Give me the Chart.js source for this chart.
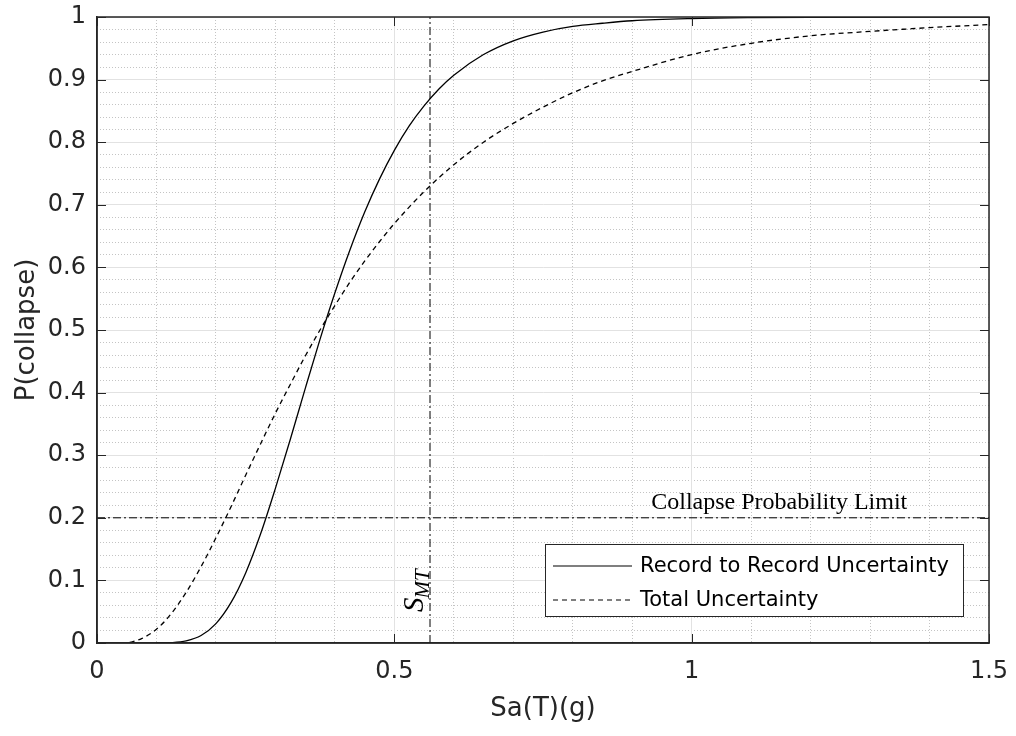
<!DOCTYPE html>
<html lang="en">
<head>
    <meta charset="utf-8" />
    <title>Collapse Fragility Curves</title>
    <script src="https://cdn.jsdelivr.net/npm/chart.js"></script>
    <style>
        html, body { margin: 0; padding: 0; background: #fff; }
        canvas { display: block; }
    </style>
</head>
<body>
    <canvas id="fragilityChart" width="1016" height="736"></canvas>
    <script>
        // values
        const xRecord = [0.10, 0.125, 0.15, 0.175, 0.20, 0.225, 0.25, 0.275, 0.30, 0.325, 0.35, 0.375, 0.40, 0.425, 0.45, 0.475, 0.50, 0.525, 0.55, 0.575, 0.60, 0.65, 0.70, 0.75, 0.80, 0.85, 0.90, 1.0, 1.1, 1.2, 1.5];
        const pRecord = [0, 0.0006, 0.0035, 0.012, 0.031, 0.064, 0.112, 0.174, 0.247, 0.325, 0.406, 0.485, 0.559, 0.627, 0.688, 0.741, 0.787, 0.826, 0.858, 0.885, 0.907, 0.940, 0.962, 0.976, 0.985, 0.990, 0.994, 0.9975, 0.999, 0.9996, 1.0];

        const xTotal = [0.055, 0.075, 0.10, 0.125, 0.15, 0.175, 0.20, 0.225, 0.25, 0.275, 0.30, 0.325, 0.35, 0.375, 0.40, 0.425, 0.45, 0.475, 0.50, 0.55, 0.60, 0.65, 0.70, 0.75, 0.80, 0.85, 0.90, 1.0, 1.1, 1.2, 1.3, 1.4, 1.5];
        const pTotal = [0.001, 0.007, 0.022, 0.047, 0.081, 0.122, 0.168, 0.217, 0.268, 0.318, 0.367, 0.413, 0.458, 0.500, 0.539, 0.576, 0.610, 0.641, 0.670, 0.721, 0.764, 0.800, 0.830, 0.856, 0.879, 0.898, 0.913, 0.940, 0.958, 0.970, 0.977, 0.983, 0.988];

        const seriesLabels = ['Record to Record Uncertainty', 'Total Uncertainty'];
        const smtValue = 0.56;     // S_MT marker
        const limitValue = 0.2;    // collapse probability limit
        const xTicks = [0, 0.5, 1, 1.5];
        const yTicks = [0, 0.1, 0.2, 0.3, 0.4, 0.5, 0.6, 0.7, 0.8, 0.9, 1];

        const axisColor = '#262626';
        const dashDot = [8, 3, 2, 3];

        const toPoints = (xs, ys) => xs.map((x, i) => ({ x, y: ys[i] }));
        const tickText = v => String(Number(v.toFixed(2)));

        // inside ticks, box, legend and the two text notes
        const decorations = {
            id: 'decorations',
            afterDatasetsDraw(chart) {
                const { ctx, chartArea: a, scales } = chart;
                const xs = scales.x, ys = scales.y;
                ctx.save();

                // box + inner tick marks
                ctx.strokeStyle = axisColor;
                ctx.lineWidth = 1.5;
                ctx.strokeRect(a.left, a.top, a.right - a.left, a.bottom - a.top);
                ctx.lineWidth = 1;
                ctx.beginPath();
                yTicks.forEach(v => {
                    const py = Math.round(ys.getPixelForValue(v)) + 0.5;
                    ctx.moveTo(a.left, py); ctx.lineTo(a.left + 9, py);
                    ctx.moveTo(a.right, py); ctx.lineTo(a.right - 9, py);
                });
                xTicks.forEach(v => {
                    const px = Math.round(xs.getPixelForValue(v)) + 0.5;
                    ctx.moveTo(px, a.bottom); ctx.lineTo(px, a.bottom - 9);
                    ctx.moveTo(px, a.top); ctx.lineTo(px, a.top + 9);
                });
                ctx.stroke();

                // text notes
                ctx.fillStyle = '#000';
                ctx.font = '24px "Liberation Serif"';
                ctx.textAlign = 'left';
                ctx.textBaseline = 'alphabetic';
                ctx.fillText('Collapse Probability Limit', xs.getPixelForValue(0.932), ys.getPixelForValue(limitValue) - 9);

                ctx.save();
                ctx.translate(xs.getPixelForValue(smtValue) - 7, ys.getPixelForValue(0) - 31);
                ctx.rotate(-Math.PI / 2);
                ctx.font = 'italic 29px "Liberation Serif"';
                ctx.fillText('S', 0, 0);
                const sw = ctx.measureText('S').width;
                ctx.font = 'italic 21px "Liberation Serif"';
                ctx.fillText('MT', sw - 1, 6);
                ctx.restore();

                // legend
                const lx = 545, ly = 544, lw = 418, lh = 72;
                ctx.fillStyle = '#fff';
                ctx.fillRect(lx, ly, lw, lh);
                ctx.strokeStyle = axisColor;
                ctx.lineWidth = 1;
                ctx.strokeRect(lx + 0.5, ly + 0.5, lw, lh);
                ctx.font = '21px "DejaVu Sans"';
                ctx.textBaseline = 'middle';
                chart.data.datasets.slice(0, 2).forEach((ds, i) => {
                    const ry = ly + 22 + i * 34;
                    ctx.strokeStyle = '#000';
                    ctx.lineWidth = 1.2;
                    ctx.setLineDash(ds.borderDash || []);
                    ctx.beginPath();
                    ctx.moveTo(lx + 8, ry); ctx.lineTo(lx + 87, ry);
                    ctx.stroke();
                    ctx.setLineDash([]);
                    ctx.fillStyle = '#000';
                    ctx.fillText(ds.label, lx + 95, ry + 1);
                });
                ctx.restore();
            }
        };

        const ctx = document.getElementById('fragilityChart').getContext('2d');
        new Chart(ctx, {
            type: 'line',
            data: {
                datasets: [
                    {
                        label: seriesLabels[0],
                        data: toPoints(xRecord, pRecord),
                        borderColor: '#000',
                        borderWidth: 1.3,
                        pointRadius: 0,
                        cubicInterpolationMode: 'monotone'
                    },
                    {
                        label: seriesLabels[1],
                        data: toPoints(xTotal, pTotal),
                        borderColor: '#000',
                        borderWidth: 1.3,
                        borderDash: [5, 4],
                        pointRadius: 0,
                        cubicInterpolationMode: 'monotone'
                    },
                    {
                        label: 'smt',
                        data: [{ x: smtValue, y: 0 }, { x: smtValue, y: 1 }],
                        borderColor: '#000',
                        borderWidth: 1,
                        borderDash: dashDot,
                        pointRadius: 0
                    },
                    {
                        label: 'limit',
                        data: [{ x: 0, y: limitValue }, { x: 1.5, y: limitValue }],
                        borderColor: '#000',
                        borderWidth: 1,
                        borderDash: dashDot,
                        pointRadius: 0
                    }
                ]
            },
            options: {
                responsive: false,
                animation: false,
                devicePixelRatio: 1,
                layout: { padding: { left: 0, top: 17, right: 27, bottom: 0 } },
                plugins: { legend: { display: false }, tooltip: { enabled: false } },
                scales: {
                    xMinor: {
                        type: 'linear', position: 'bottom', min: 0, max: 1.5, z: -1,
                        ticks: { display: false, stepSize: 0.1 },
                        grid: { color: '#c4c4c4', drawTicks: false, lineWidth: 1 },
                        border: { display: false, dash: [1, 2] },
                        afterFit: s => { s.height = 0; s.paddingLeft = 0; s.paddingRight = 0; }
                    },
                    yMinor: {
                        type: 'linear', position: 'left', min: 0, max: 1, z: -1,
                        ticks: { display: false, stepSize: 0.02 },
                        grid: { color: '#c4c4c4', drawTicks: false, lineWidth: 1 },
                        border: { display: false, dash: [1, 2] },
                        afterFit: s => { s.width = 0; s.paddingTop = 0; s.paddingBottom = 0; }
                    },
                    x: {
                        type: 'linear', position: 'bottom', min: 0, max: 1.5,
                        ticks: {
                            stepSize: 0.5, color: axisColor, padding: 14,
                            font: { family: 'DejaVu Sans', size: 24 },
                            callback: tickText
                        },
                        grid: { color: '#e2e2e2', drawTicks: false },
                        border: { color: axisColor, width: 1.5 },
                        title: {
                            display: true, text: 'Sa(T)(g)', color: axisColor,
                            font: { family: 'DejaVu Sans', size: 26 },
                            padding: { top: 0, bottom: 11 }
                        },
                        afterFit: s => { s.height = 93; s.paddingLeft = 0; s.paddingRight = 0; }
                    },
                    y: {
                        type: 'linear', position: 'left', min: 0, max: 1,
                        ticks: {
                            stepSize: 0.1, color: axisColor, padding: 11,
                            font: { family: 'DejaVu Sans', size: 24 },
                            callback: tickText
                        },
                        grid: { color: '#e2e2e2', drawTicks: false },
                        border: { color: axisColor, width: 1.5 },
                        title: {
                            display: true, text: 'P(collapse)', color: axisColor,
                            font: { family: 'DejaVu Sans', size: 26 },
                            padding: { top: 12, bottom: 0 }
                        },
                        afterFit: s => { s.width = 97; s.paddingTop = 0; s.paddingBottom = 0; }
                    }
                }
            },
            plugins: [decorations]
        });
    </script>
</body>
</html>
